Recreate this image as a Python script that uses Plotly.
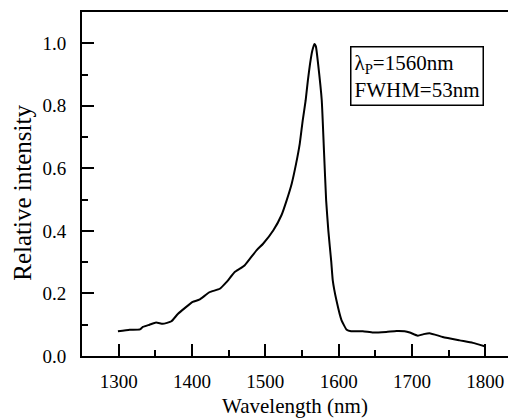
import plotly.graph_objects as go

# ── Data ──────────────────────────────────────────────────────────────────────
wavelength = [1299, 1315, 1329, 1333, 1342, 1351, 1360, 1366, 1372, 1381, 1401, 1410,
              1424, 1438, 1447, 1458, 1466, 1472, 1488, 1497, 1511, 1522, 1529,
              1536, 1542, 1547, 1551, 1555, 1558, 1561, 1564, 1567, 1569, 1572,
              1577, 1580, 1583, 1586, 1590, 1592, 1597, 1604, 1611, 1617, 1633,
              1647, 1665, 1679, 1690, 1697, 1708, 1716, 1724, 1742, 1765, 1783, 1799]
intensity = [0.079, 0.084, 0.085, 0.093, 0.100, 0.107, 0.103, 0.106, 0.111, 0.135, 0.173, 0.180,
             0.204, 0.215, 0.236, 0.268, 0.280, 0.290, 0.338, 0.359, 0.402, 0.450, 0.497,
             0.551, 0.615, 0.679, 0.753, 0.817, 0.880, 0.934, 0.975, 0.998, 0.990, 0.934,
             0.817, 0.657, 0.497, 0.400, 0.300, 0.242, 0.178, 0.114, 0.084, 0.079, 0.079,
             0.075, 0.077, 0.080, 0.079, 0.075, 0.065, 0.070, 0.073, 0.061, 0.050, 0.042, 0.031]

x_ticks = [1300, 1400, 1500, 1600, 1700, 1800]
y_ticks = [0.0, 0.2, 0.4, 0.6, 0.8, 1.0]

_FONT = "Liberation Serif"
_TICKFONT = dict(family=_FONT, size=19, color="black")

fig = go.Figure(go.Scatter(
    x=wavelength, y=intensity,
    mode="lines",
    line=dict(color="black", width=2, shape="spline", smoothing=0.4),
    hoverinfo="skip",
))

# legend-like note box
fig.add_annotation(
    xref="paper", yref="paper", x=0.63, y=0.90,
    xanchor="left", yanchor="top", align="left",
    text="λ<sub>P</sub>=1560nm<br>FWHM=53nm",
    showarrow=False,
    font=dict(family=_FONT, size=21, color="black"),
    bordercolor="black", borderwidth=1.5, borderpad=3,
    bgcolor="white",
)

# y title placed by hand (sits a bit below the plot centre in the reference)
fig.add_annotation(
    xref="paper", yref="paper", x=-0.139, y=0.474,
    xanchor="center", yanchor="middle", textangle=-90,
    text="Relative intensity", showarrow=False,
    font=dict(family=_FONT, size=25, color="black"),
)

fig.update_layout(
    width=508, height=419,
    margin=dict(l=82, r=0, t=12, b=63, autoexpand=False),
    plot_bgcolor="white", paper_bgcolor="white",
    showlegend=False,
    font=dict(family=_FONT, size=19, color="black"),
    xaxis=dict(
        range=[1250, 1831], tickvals=x_ticks, tickfont=_TICKFONT,
        ticks="inside", ticklen=12, tickwidth=1.5, tickcolor="black",
        minor=dict(dtick=50, ticks="inside", ticklen=6, tickwidth=1.5, tickcolor="black"),
        showline=True, linecolor="black", linewidth=2, mirror=True,
        showgrid=False, zeroline=False,
        ticklabelstandoff=7,
        title=dict(text="Wavelength (nm)", font=dict(family=_FONT, size=21), standoff=8),
    ),
    yaxis=dict(
        range=[0, 1.1], tickvals=y_ticks, tickformat=".1f", tickfont=_TICKFONT,
        ticks="inside", ticklen=12, tickwidth=1.5, tickcolor="black",
        minor=dict(dtick=0.1, ticks="inside", ticklen=6, tickwidth=1.5, tickcolor="black"),
        showline=True, linecolor="black", linewidth=2,
        showgrid=False, zeroline=False,
        ticklabelstandoff=10,
    ),
)

fig.write_html("out.html", config={"displayModeBar": False},
               post_script="document.body.style.margin='0px';")
